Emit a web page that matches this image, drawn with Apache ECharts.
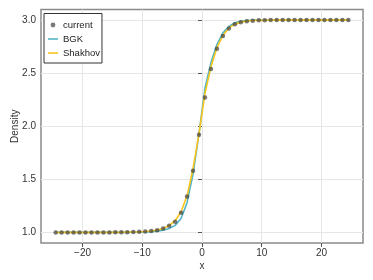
<!DOCTYPE html>
<html><head><meta charset="utf-8">
<script src="https://cdn.jsdelivr.net/npm/echarts@6/dist/echarts.min.js"></script>
<style>html,body{margin:0;padding:0;background:#fff}#c{width:373px;height:280px}</style>
</head><body><div id="c"></div>
<script>
var xs = [-24.5,-23.5,-22.5,-21.5,-20.5,-19.5,-18.5,-17.5,-16.5,-15.5,-14.5,-13.5,-12.5,-11.5,-10.5,-9.5,-8.5,-7.5,-6.5,-5.5,-4.5,-3.5,-2.5,-1.5,-0.5,0.5,1.5,2.5,3.5,4.5,5.5,6.5,7.5,8.5,9.5,10.5,11.5,12.5,13.5,14.5,15.5,16.5,17.5,18.5,19.5,20.5,21.5,22.5,23.5,24.5];
var current = [1,1,1,1,1,1,1,1,1,1,1.001,1.001,1.002,1.003,1.005,1.008,1.013,1.021,1.036,1.062,1.10,1.185,1.337,1.58,1.92,2.27,2.54,2.73,2.85,2.92,2.96,2.98,2.99,2.995,2.998,2.999,3,3,3,3,3,3,3,3,3,3,3,3,3,3];
var bgk = [1,1,1,1,1,1,1,1,1,1,1,1,1,1.001,1.002,1.003,1.006,1.011,1.02,1.036,1.066,1.13,1.28,1.55,1.93,2.36,2.60,2.77,2.88,2.94,2.975,2.99,2.996,2.999,3,3,3,3,3,3,3,3,3,3,3,3,3,3,3,3];
var shakhov = [1,1,1,1,1,1,1,1,1,1,1,1.001,1.002,1.003,1.005,1.008,1.013,1.022,1.037,1.064,1.11,1.195,1.345,1.60,1.93,2.31,2.56,2.74,2.855,2.925,2.962,2.981,2.991,2.996,2.998,2.999,3,3,3,3,3,3,3,3,3,3,3,3,3,3];
var xTicks = [-20,-10,0,10,20];
var yTicks = [1.0,1.5,2.0,2.5,3.0];

function pairs(v){ return xs.map(function(x,i){return [x,v[i]];}); }
var FONT = 'Liberation Sans';
var LINE_ICON = 'path://M0,0M10,10M0,4.2L10,4.2L10,5.8L0,5.8Z';
var DOT_ICON = 'path://M0,0M10,10M2.6,5a2.4,2.4 0 1,0 4.8,0a2.4,2.4 0 1,0 -4.8,0z';
var chart = echarts.init(document.getElementById('c'), null, {renderer:'canvas'});
chart.setOption({
  animation:false,
  backgroundColor:'#fff',
  textStyle:{fontFamily:FONT},
  grid:{left:41,right:10,top:9.5,bottom:37,show:true,borderColor:'#8a8a8a',borderWidth:1.5,containLabel:false,outerBoundsMode:'none'},
  xAxis:{type:'value',min:-26.95,max:26.95,interval:10,
    name:'x',nameLocation:'middle',nameGap:18,nameMoveOverlap:false,nameTextStyle:{fontSize:10,color:'#333',fontFamily:FONT},
    axisLine:{show:false},
    axisTick:{show:true,length:4,inside:false,lineStyle:{color:'#555'},customValues:xTicks},
    axisLabel:{fontSize:10,color:'#333',margin:5,fontFamily:FONT,customValues:xTicks,formatter:function(v){return String(v).replace('-','\u2212');}},
    splitLine:{show:true,lineStyle:{color:'#e6e6e6',width:1}}
  },
  yAxis:{type:'value',min:0.9,max:3.1,
    name:'Density',nameLocation:'middle',nameGap:21,nameMoveOverlap:false,nameTextStyle:{fontSize:10,color:'#333',fontFamily:FONT},
    axisLine:{show:false},
    axisTick:{show:true,length:4,lineStyle:{color:'#555'},customValues:yTicks},
    axisLabel:{fontSize:10,color:'#333',margin:5,fontFamily:FONT,customValues:yTicks,formatter:function(v){return v.toFixed(1);}},
    splitLine:{show:true,lineStyle:{color:'#e6e6e6',width:1}}
  },
  legend:{orient:'vertical',left:44,top:13.5,padding:[6.5,2,5,4],itemGap:4,itemWidth:10,itemHeight:10,
    backgroundColor:'#fff',borderColor:'#333',borderWidth:1,
    textStyle:{fontSize:9.5,color:'#222',fontFamily:FONT},
    data:[{name:'current',icon:DOT_ICON},{name:'BGK',icon:LINE_ICON},{name:'Shakhov',icon:LINE_ICON}]
  },
  series:[
    {name:'BGK',type:'line',data:pairs(bgk),symbol:'none',z:2,lineStyle:{color:'#52b5c5',width:1.6},itemStyle:{color:'#52b5c5'}},
    {name:'Shakhov',type:'line',data:pairs(shakhov),symbol:'none',z:3,lineStyle:{color:'#f7c51e',width:1.6},itemStyle:{color:'#f7c51e'}},
    {name:'current',type:'scatter',data:pairs(current),symbol:'circle',symbolSize:4.5,z:4,itemStyle:{color:'rgba(60,60,60,0.85)'}}
  ]
});
</script></body></html>
